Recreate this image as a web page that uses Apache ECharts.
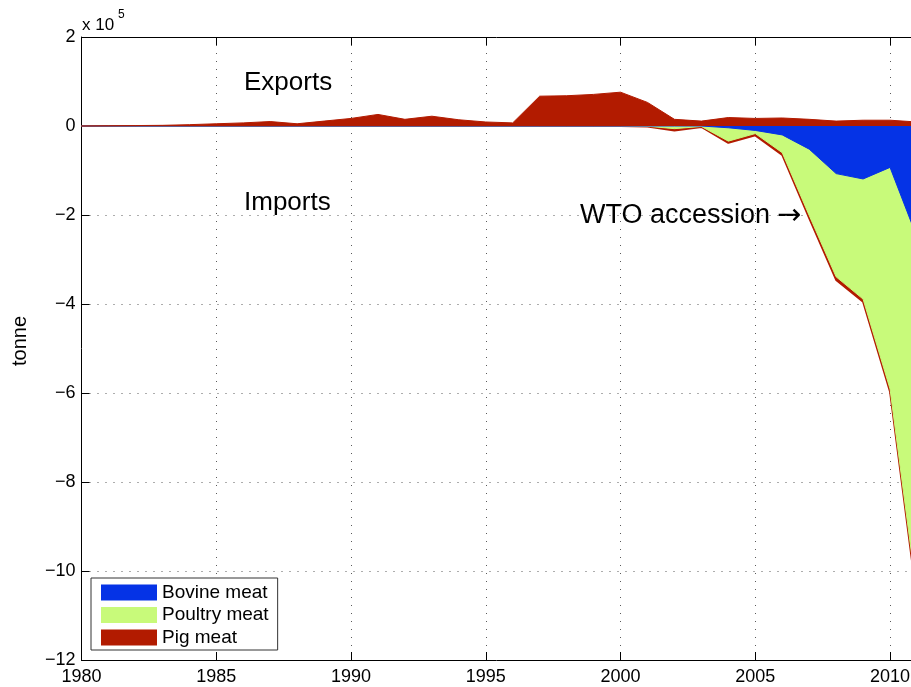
<!DOCTYPE html>
<html>
<head>
<meta charset="utf-8">
<title>Meat trade</title>
<script src="https://cdn.jsdelivr.net/npm/echarts@6/dist/echarts.min.js"></script>
<style>
  html, body { margin: 0; padding: 0; background: #fff; }
  #chart { width: 911px; height: 687px; }
</style>
</head>
<body>
<div id="chart"></div>
<script>
// Years on the x axis
const years = [1980, 1981, 1982, 1983, 1984, 1985, 1986, 1987, 1988, 1989,
               1990, 1991, 1992, 1993, 1994, 1995, 1996, 1997, 1998, 1999,
               2000, 2001, 2002, 2003, 2004, 2005, 2006, 2007, 2008, 2009,
               2010, 2011];

// Exports (tonnes, positive)
const pigExports = [0, 500, 1000, 1500, 3000, 5000, 7000, 10000, 5000, 11000,
                    17000, 26000, 15000, 22000, 14000, 9000, 7000, 67000, 68000, 71000,
                    76000, 53000, 15000, 11000, 19000, 17000, 18000, 15000, 11000, 13000,
                    13000, 9000];

// Imports (tonnes, negative)
const bovineImports = [0, 0, 0, 0, 0, 0, 0, 0, 0, 0,
                       0, 0, 0, 0, 0, 0, 0, 0, 0, 0,
                       0, 0, 0, 0, -4000, -10000, -20000, -52000, -107000, -119000,
                       -93000, -250000];
const poultryImports = [0, 0, 0, 0, 0, 0, 0, 0, 0, 0,
                        0, 0, 0, 0, 0, 0, 0, 0, 0, 0,
                        0, -500, -6000, -1000, -30000, -7000, -40000, -149000, -232000, -270000,
                        -498000, -805000];
const pigImports = [0, 0, 0, 0, 0, 0, 0, 0, 0, 0,
                    0, 0, 0, 0, 0, 0, 0, 0, 0, 0,
                    0, -500, -4000, -1000, -4000, -4000, -5000, -6000, -7000, -6000,
                    -6000, -8000];

const seriesNames = ['Bovine meat', 'Poultry meat', 'Pig meat'];

const COLORS = { bovine: '#0533E6', poultry: '#C8FA7A', pig: '#B21B00' };
const FONT = '"Liberation Sans", Arial, Helvetica, sans-serif';

// Cumulative import layers: each layer is filled down from zero, the deeper
// (larger) totals painted first so the shallower layers sit on top of them.
const bovineLayer = bovineImports.slice();
const poultryLayer = bovineImports.map((v, i) => v + poultryImports[i]);
const pigLayer = poultryLayer.map((v, i) => v + pigImports[i]);

const pairs = arr => years.map((y, i) => [y, arr[i]]);

function areaSeries(name, data, color, z, lineWidth) {
  return {
    type: 'line',
    name: name,
    data: pairs(data),
    z: z,
    symbol: 'none',
    color: color,
    itemStyle: { color: color },
    lineStyle: { color: color, width: lineWidth },
    areaStyle: { color: color, opacity: 1, origin: 0 },
    emphasis: { disabled: true }
  };
}

const chart = echarts.init(document.getElementById('chart'), null, { renderer: 'canvas' });

const axisBase = {
  axisLine: { show: true, onZero: false, lineStyle: { color: '#000', width: 1 } },
  axisTick: { show: true, inside: true, length: 8, lineStyle: { color: '#000' } }
};
const gridDots = { show: true, lineStyle: { type: [1, 7], color: '#5a5a5a', width: 1 } };

chart.setOption({
  animation: false,
  backgroundColor: '#fff',
  textStyle: { fontFamily: FONT },
  grid: { left: 81.5, right: -6, top: 37, bottom: 27, containLabel: false, outerBoundsMode: 'none' },
  legend: {
    data: seriesNames,
    orient: 'vertical',
    left: 91,
    top: 578,
    icon: 'rect',
    itemWidth: 56,
    itemHeight: 16,
    itemGap: 3.5,
    padding: [5, 9, 3, 10],
    borderColor: '#333',
    borderWidth: 1,
    backgroundColor: '#fff',
    selectedMode: false,
    textStyle: { fontSize: 19, color: '#000', fontFamily: FONT, lineHeight: 16 }
  },
  xAxis: [
    Object.assign({
      type: 'value', min: 1980, max: 2011, interval: 5, position: 'bottom',
      axisLabel: {
        fontSize: 18, color: '#000', margin: 8, fontFamily: FONT,
        formatter: v => (v % 5 === 0 ? String(v) : '')
      },
      splitLine: gridDots
    }, axisBase),
    Object.assign({
      type: 'value', min: 1980, max: 2011, interval: 5, position: 'top',
      axisLabel: { show: false },
      splitLine: { show: false }
    }, axisBase)
  ],
  yAxis: Object.assign({
    type: 'value', min: -1200000, max: 200000, interval: 200000,
    axisLabel: {
      fontSize: 18, color: '#000', margin: 6, fontFamily: FONT,
      formatter: v => {
        const n = Math.round(v / 100000);
        return n < 0 ? '\u2212' + Math.abs(n) : String(n);
      }
    },
    splitLine: gridDots
  }, axisBase),
  series: [
    areaSeries(seriesNames[2], pigLayer, COLORS.pig, 2, 2),
    areaSeries(seriesNames[1], poultryLayer, COLORS.poultry, 3, 1),
    areaSeries(seriesNames[0], bovineLayer, COLORS.bovine, 4, 1),
    areaSeries(seriesNames[2], pigExports, COLORS.pig, 5, 1)
  ],
  graphic: [
    { type: 'text', x: 20, y: 341, rotation: Math.PI / 2,
      style: { text: 'tonne', font: '20px ' + FONT, fill: '#000', align: 'center', verticalAlign: 'middle' } },
    { type: 'text', x: 82, y: 25,
      style: { text: 'x 10', font: '17px ' + FONT, fill: '#000', align: 'left', verticalAlign: 'middle' } },
    { type: 'text', x: 118, y: 15,
      style: { text: '5', font: '12px ' + FONT, fill: '#000', align: 'left', verticalAlign: 'middle' } },
    { type: 'text', x: 244, y: 83,
      style: { text: 'Exports', font: '26px ' + FONT, fill: '#000', align: 'left', verticalAlign: 'middle' } },
    { type: 'text', x: 244, y: 203,
      style: { text: 'Imports', font: '26px ' + FONT, fill: '#000', align: 'left', verticalAlign: 'middle' } },
    { type: 'text', x: 580, y: 216,
      style: { text: 'WTO accession', font: '27px ' + FONT, fill: '#000', align: 'left', verticalAlign: 'middle' } },
    { type: 'text', x: 777, y: 216,
      style: { text: '\u2192', font: '29px "DejaVu Sans", sans-serif', fill: '#000', align: 'left', verticalAlign: 'middle' } }
  ]
});
</script>
</body>
</html>
